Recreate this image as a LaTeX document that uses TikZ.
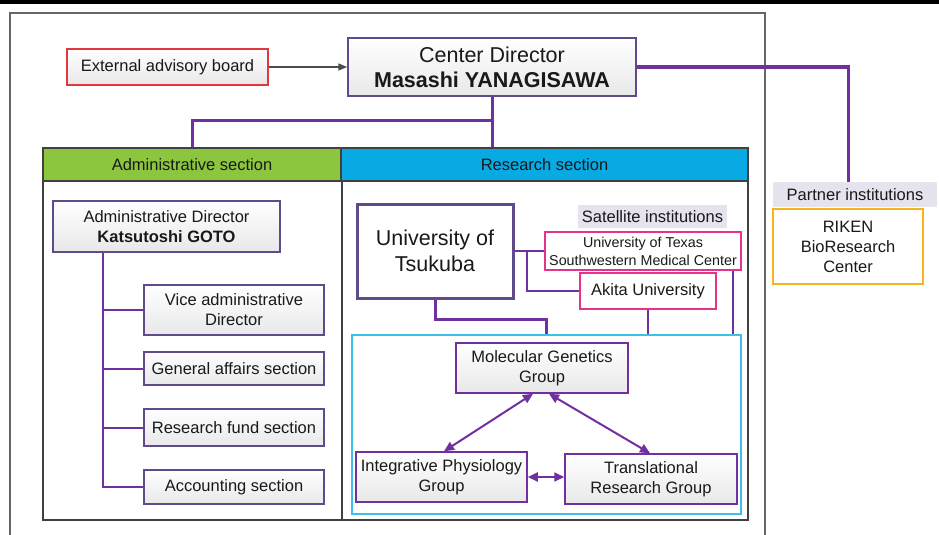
\documentclass[tikz,border=0pt]{standalone}
\usepackage{fontspec}
\setmainfont{Liberation Sans}
\usetikzlibrary{arrows.meta,calc}
\definecolor{lpurple}{HTML}{7030A0}
\definecolor{bpurple}{HTML}{5F4B8B}
\definecolor{redb}{HTML}{E0383C}
\definecolor{pinkb}{HTML}{E5338B}
\definecolor{goldb}{HTML}{F5B51E}
\definecolor{cyanb}{HTML}{3DBFE8}
\definecolor{greenh}{HTML}{8CC63F}
\definecolor{blueh}{HTML}{08AAE4}
\definecolor{lav}{HTML}{E6E2EE}
\definecolor{framec}{HTML}{666666}
\definecolor{secc}{HTML}{404040}
\newcommand\fsM{\fontsize{16.5}{20}\selectfont}
\newcommand\fsL{\fontsize{21.5}{26}\selectfont}
\newcommand\fsS{\fontsize{14.3}{18}\selectfont}
\tikzset{
  box/.style={draw=bpurple, line width=1.5pt, top color=white, bottom color=gray!18, inner sep=0pt, align=center, font=\fsM, text=black!90},
  wbox/.style={fill=white, inner sep=0pt, align=center, font=\fsM, text=black!90},
  lab/.style={fill=lav, inner sep=0pt, align=center, font=\fsM, text=black!90},
  hdr/.style={draw=secc, line width=2pt, inner sep=0pt, font=\fsM, text=black!90},
  conn/.style={draw=lpurple, line width=2pt},
  thick conn/.style={draw=lpurple, line width=3pt},
  darr/.style={draw=lpurple, line width=2pt, {Triangle[length=10pt,width=9pt]}-{Triangle[length=10pt,width=9pt]}}
}
\begin{document}
\begin{tikzpicture}[x=1pt,y=-1pt]
\useasboundingbox (0,0) rectangle (939,535);
% top bar and outer frame
\draw[line width=4pt] (0,2) -- (939,2);
\draw[framec, line width=1.5pt] (10,535) -- (10,13) -- (765,13) -- (765,535);

% top level
\node[box, draw=redb, minimum width=201pt, minimum height=36pt] (ext) at (167.5,67) {External advisory board};
\node[box, font=\fsL, minimum width=288pt, minimum height=58pt] (cd) at (492,67) {Center Director\\[-1pt]{\bfseries Masashi YANAGISAWA}};
\draw[draw=black!70, line width=1.5pt, -{Triangle[length=9pt,width=7pt]}] (ext.east) -- (cd.west);

% partner
\node[lab, minimum width=164pt, minimum height=25pt] (pl) at (855,194.5) {Partner institutions};
\node[wbox, draw=goldb, line width=2pt, minimum width=150pt, minimum height=75pt] (rk) at (848,246.5) {RIKEN\\BioResearch\\Center};
\draw[thick conn] (cd.east) -| ([xshift=-7pt]pl.north);

% sections
\node[hdr, fill=greenh, minimum width=298pt, minimum height=33pt] (adm) at (192,164.5) {Administrative section};
\node[hdr, fill=blueh, minimum width=407pt, minimum height=33pt] (rs) at (544.5,164.5) {Research section};
\node[draw=secc, line width=2pt, minimum width=705pt, minimum height=372pt, inner sep=0pt] (sec) at (395.5,334) {};
\draw[secc, line width=2pt] (adm.south east) -- (adm.south east |- sec.south);
\draw[thick conn] (cd.south) -- (cd.south |- sec.north);
\draw[thick conn] ([yshift=27pt]adm.north -| cd.south) -| (adm.north);

% administrative
\node[box, minimum width=227pt, minimum height=51pt] (ad) at (166.5,226.5) {Administrative Director\\{\bfseries Katsutoshi GOTO}};
\node[box, minimum width=180pt, minimum height=50pt] (vice) at (234,310) {Vice administrative\\Director};
\node[box, minimum width=180pt, minimum height=33pt] (ga) at (234,368.5) {General affairs section};
\node[box, minimum width=180pt, minimum height=37pt] (rf) at (234,427.5) {Research fund section};
\node[box, minimum width=180pt, minimum height=34pt] (acc) at (234,487) {Accounting section};
\draw[conn] ([xshift=51pt]ad.south west) coordinate (v0) |- (acc.west);
\draw[conn] (v0 |- vice.west) -- (vice.west);
\draw[conn] (v0 |- ga.west) -- (ga.west);
\draw[conn] (v0 |- rf.west) -- (rf.west);

% research
\node[wbox, font=\fsL, draw=bpurple, line width=3pt, minimum width=156pt, minimum height=94pt] (tsu) at (435,251) {University of\\Tsukuba};
\node[lab, minimum width=149pt, minimum height=23pt] (sat) at (652.5,216.5) {Satellite institutions};
\node[wbox, font=\fsS, draw=pinkb, line width=2pt, minimum width=196pt, minimum height=38pt] (ut) at (643,251) {University of Texas\\Southwestern Medical Center};
\node[wbox, draw=pinkb, line width=2pt, minimum width=136pt, minimum height=36pt] (ak) at (648,291) {Akita University};
\node[draw=cyanb, line width=1.5pt, minimum width=389pt, minimum height=179pt, inner sep=0pt] (cy) at (546.5,424.5) {};
\draw[conn] (tsu.east) -- (ut.west);
\draw[conn] ([xshift=12pt]tsu.east) |- (ak.west);
\draw[conn] (ak.south) -- (ak.south |- cy.north);
\draw[conn] ([xshift=-9pt]ut.south east) coordinate (u1) -- (u1 |- cy.north);
\draw[thick conn] (tsu.south) |- ([yshift=15pt]cy.north) -- (cy.north);

\node[box, draw=lpurple, minimum width=172pt, minimum height=50pt] (mg) at (542,368) {Molecular Genetics\\Group};
\node[box, draw=lpurple, minimum width=171pt, minimum height=50pt] (ip) at (441.5,477) {Integrative Physiology\\Group};
\node[box, draw=lpurple, minimum width=172pt, minimum height=50pt] (tr) at (651,479) {Translational\\Research Group};
\draw[darr] ([xshift=-9pt]mg.south) -- ([xshift=2.5pt]ip.north);
\draw[darr] ([xshift=7pt]mg.south) -- ([xshift=-1pt]tr.north);
\draw[darr] (ip.east) -- (ip.east -| tr.west);
\end{tikzpicture}
\end{document}
